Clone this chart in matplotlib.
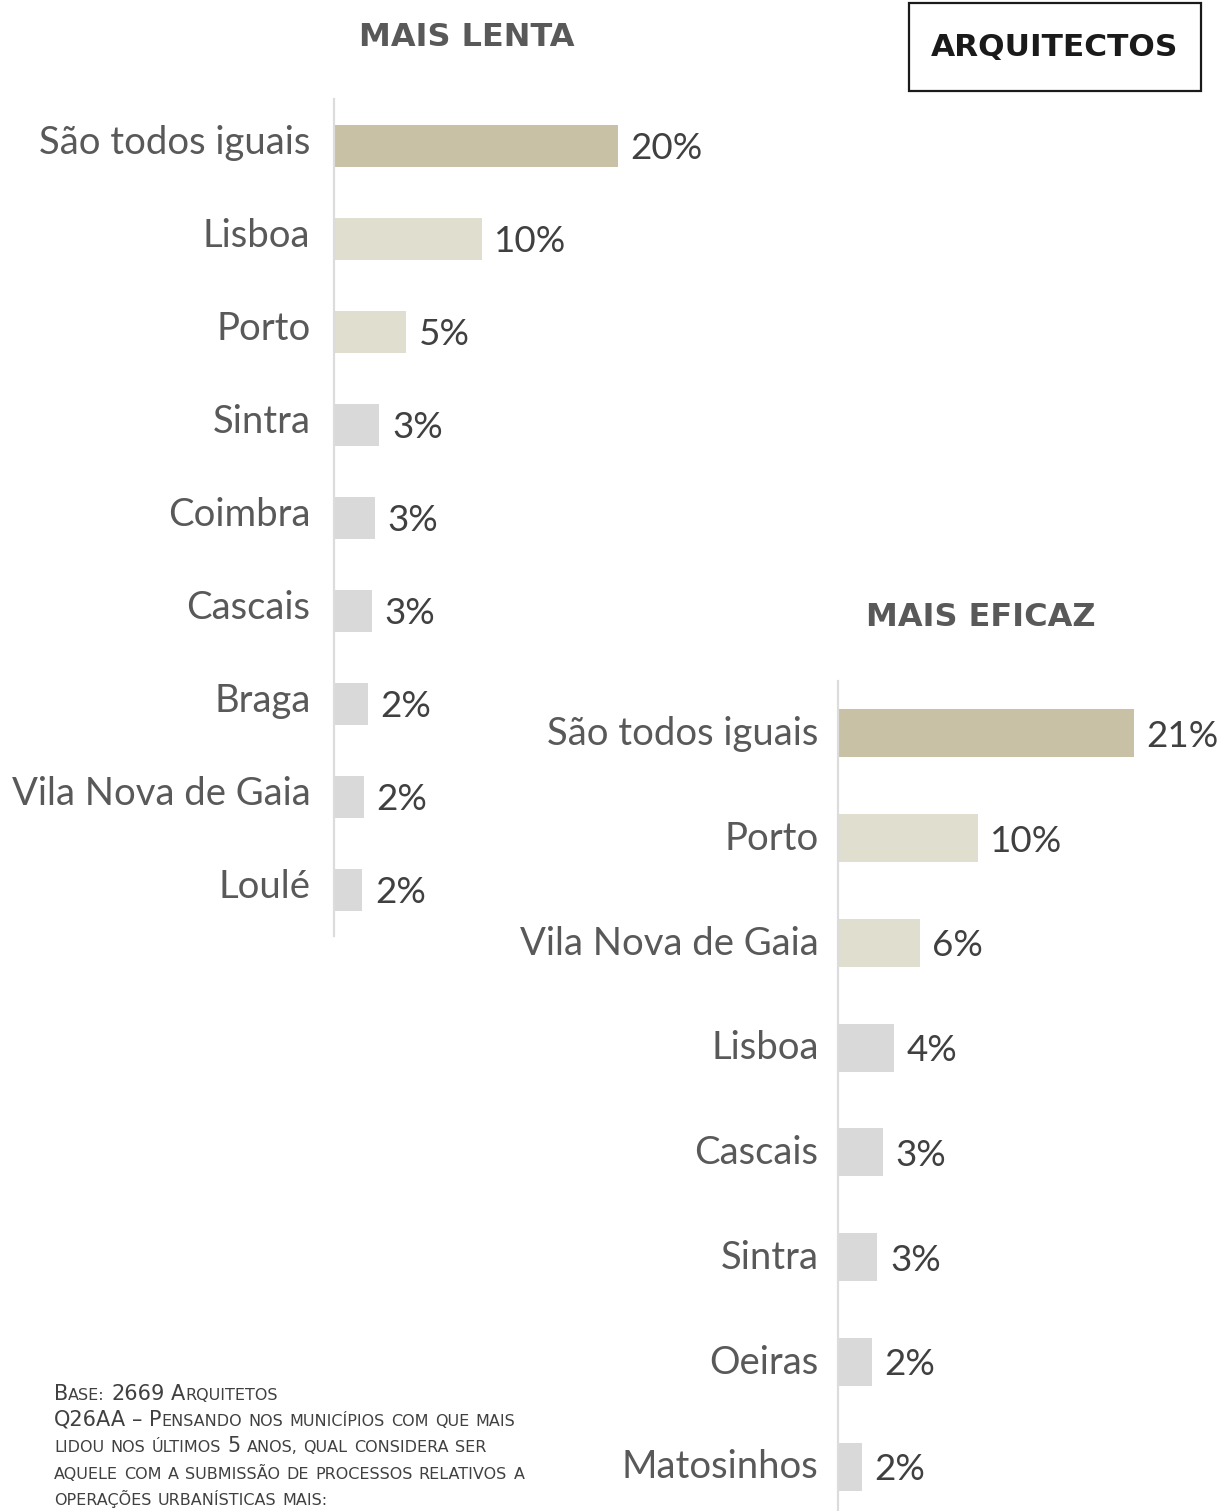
import matplotlib.pyplot as plt
from matplotlib.patches import Rectangle
from matplotlib.offsetbox import TextArea, HPacker, AnnotationBbox

# data
lenta_cats = ["São todos iguais", "Lisboa", "Porto", "Sintra", "Coimbra",
              "Cascais", "Braga", "Vila Nova de Gaia", "Loulé"]
lenta_vals = [20.0, 10.4, 5.1, 3.2, 2.9, 2.7, 2.4, 2.1, 2.0]

eficaz_cats = ["São todos iguais", "Porto", "Vila Nova de Gaia", "Lisboa",
               "Cascais", "Sintra", "Oeiras", "Matosinhos"]
eficaz_vals = [21.0, 9.9, 5.8, 4.0, 3.2, 2.8, 2.4, 1.7]

note_lines = ["Base: 2669 Arquitetos",
              "Q26AA – Pensando nos municípios com que mais",
              "lidou nos últimos 5 anos, qual considera ser",
              "aquele com a submissão de processos relativos a",
              "operações urbanísticas mais:"]

DARK = "#C8C1A5"
LIGHT = "#E0DECF"
GREY = "#D9D9D9"
LABEL_C = "#595959"
VALUE_C = "#404040"
LABEL_FONT = "Lato"

W, H = 1221, 1511
fig = plt.figure(figsize=(W / 100, H / 100), dpi=100)


def px_box(x0, y_top, w, h):
    # pixel box (from top-left) -> figure fraction rect
    return [x0 / W, 1 - (y_top + h) / H, w / W, h / H]


def bar_panel(rect, cats, vals, xmax, bar_h, lab_pad, lab_dy):
    ax = fig.add_axes(rect)
    pos = list(range(len(cats)))
    colors = [DARK, LIGHT, LIGHT] + [GREY] * (len(cats) - 3)
    ax.barh(pos, vals, height=bar_h, color=colors)
    ax.set_ylim(len(cats) - 0.5, -0.5)
    ax.set_xlim(0, xmax)
    for s in ["top", "right", "bottom"]:
        ax.spines[s].set_visible(False)
    ax.spines["left"].set_color("#DCDCDC")
    ax.spines["left"].set_linewidth(1.6)
    ax.set_xticks([])
    ax.set_yticks([])
    for i, (c, v) in enumerate(zip(cats, vals)):
        ax.annotate(c, (0, i), xytext=(-lab_pad, lab_dy), textcoords="offset points",
                    ha="right", va="center_baseline", fontsize=27.5,
                    color=LABEL_C, family=LABEL_FONT)
        ax.annotate(f"{round(v)}%", (v, i), xytext=(9, 0), textcoords="offset points",
                    ha="left", va="center_baseline", fontsize=26.5,
                    color=VALUE_C, family=LABEL_FONT)
    return ax


bar_panel(px_box(334, 99.5, 420, 837), lenta_cats, lenta_vals,
          420 / 14.2, 0.45, 17, 5)
bar_panel(px_box(838, 681, 383, 838), eficaz_cats, eficaz_vals,
          383 / 14.1, 0.46, 14, 2)

# titles
fig.text(467 / W, 1 - 37 / H, "MAIS LENTA", ha="center", va="center",
         fontsize=23, fontweight="bold", color=LABEL_C, family="DejaVu Sans")
fig.text(981 / W, 1 - 617 / H, "MAIS EFICAZ", ha="center", va="center",
         fontsize=23, fontweight="bold", color=LABEL_C, family="DejaVu Sans")

# boxed header
fig.add_artist(Rectangle((909 / W, 1 - 91 / H), 292 / W, 88 / H,
                         transform=fig.transFigure, fill=False,
                         edgecolor="#1A1A1A", linewidth=1.6))
fig.text(1055 / W, 1 - 47 / H, "ARQUITECTOS", ha="center", va="center",
         fontsize=22.5, fontweight="bold", color="#1A1A1A", family="DejaVu Sans")


# footnote in small caps
def small_caps_word(word, big, small):
    runs = []
    for ch in word:
        is_small = ch.islower()
        if runs and (runs[-1][1] == is_small or not ch.isalnum()):
            runs[-1][0] += ch
        else:
            runs.append([ch, is_small])
    kids = [TextArea(t.upper(), textprops=dict(fontsize=small if s else big,
                                                color=VALUE_C, family="DejaVu Sans"))
            for t, s in runs]
    return HPacker(children=kids, align="baseline", pad=0, sep=0)


for k, line in enumerate(note_lines):
    words = [small_caps_word(w, 15, 11.5) for w in line.split(" ")]
    box = HPacker(children=words, align="baseline", pad=0, sep=4.5)
    ab = AnnotationBbox(box, (54 / W, 1 - (1404 + 26 * k) / H),
                        xycoords="figure fraction", box_alignment=(0, 0),
                        frameon=False, pad=0)
    fig.add_artist(ab)

fig.savefig("out.png", dpi=100)
